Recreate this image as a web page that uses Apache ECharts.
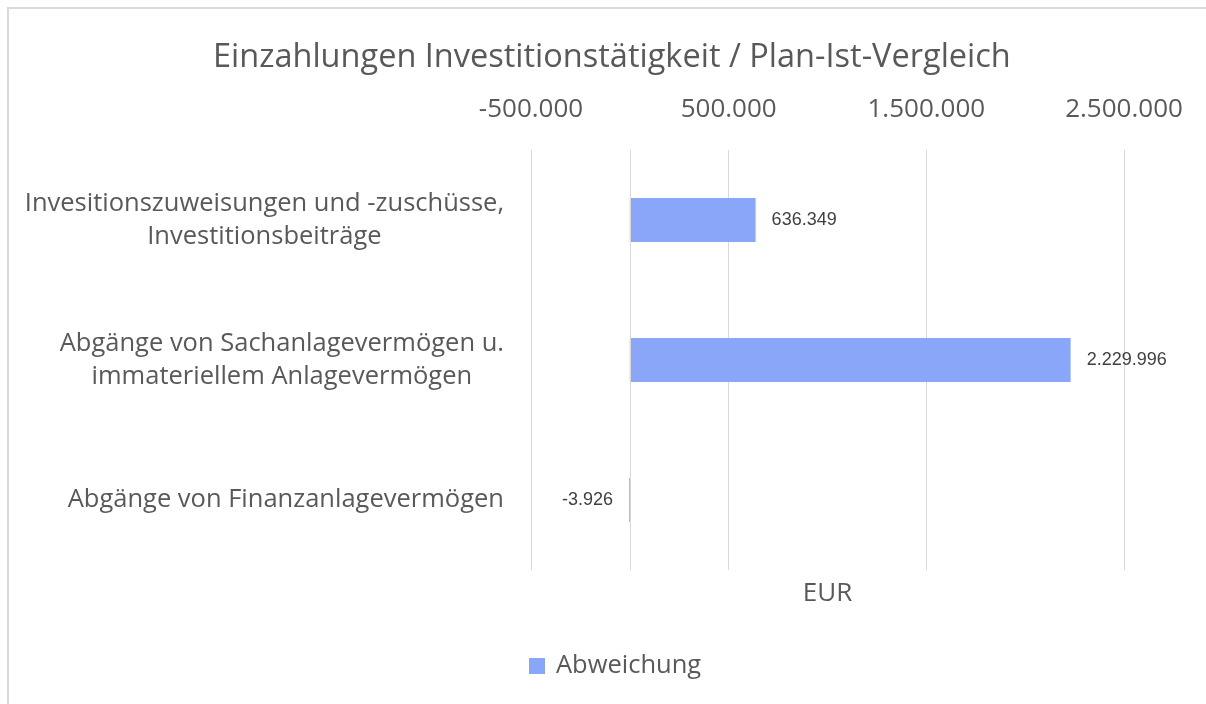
<!DOCTYPE html>
<html>
<head>
<meta charset="utf-8">
<script src="https://cdn.jsdelivr.net/npm/echarts@6/dist/echarts.min.js"></script>
<style>
  html, body { margin: 0; padding: 0; background: #fff; overflow: hidden; }
  #wrap { position: relative; width: 1206px; height: 704px; overflow: hidden; }
  #frame { position: absolute; left: 7px; top: 7px; width: 1300px; height: 800px; border: 2px solid #d9d9d9; box-sizing: border-box; }
  #chart { position: absolute; left: 0; top: 0; width: 1206px; height: 704px; }
</style>
</head>
<body>
<div id="wrap">
  <div id="frame"></div>
  <div id="chart"></div>
</div>
<script>
// Daten
const categories = [
  'Invesitionszuweisungen und -zuschüsse,\nInvestitionsbeiträge',
  'Abgänge von Sachanlagevermögen u.\nimmateriellem Anlagevermögen',
  'Abgänge von Finanzanlagevermögen'
]
const abweichung = [636349, 2229996, -3926]
const axisMin = -500000
const axisMax = 2500000
const axisStep = 1000000

const font = '"Open Sans", "Noto Sans", sans-serif'
const grey = '#595959'

// deutsche Tausenderpunkte
function fmt (v) {
  const s = Math.abs(Math.round(v)).toString().replace(/\B(?=(\d{3})+(?!\d))/g, '.')
  return (v < 0 ? '-' : '') + s
}

const chart = echarts.init(document.getElementById('chart'))
chart.setOption({
  animation: false,
  title: {
    text: 'Einzahlungen Investitionstätigkeit / Plan-Ist-Vergleich',
    left: 208,
    top: 36,
    textStyle: { fontFamily: font, fontSize: 32.5, fontWeight: 'normal', color: grey }
  },
  legend: {
    bottom: 20,
    left: 524,
    icon: 'rect',
    itemWidth: 16,
    itemHeight: 16,
    itemGap: 6,
    textStyle: { fontFamily: font, fontSize: 25.5, color: grey, padding: [0, 0, 0, 6] },
    data: ['Abweichung']
  },
  grid: {
    left: 531,
    right: 82,
    top: 150,
    bottom: 134
  },
  xAxis: [
    {
      type: 'value',
      position: 'top',
      min: axisMin,
      max: axisMax,
      interval: axisStep,
      axisLine: { show: false },
      axisTick: { show: false },
      axisLabel: {
        margin: 27,
        fontFamily: font,
        fontSize: 26,
        color: grey,
        formatter: fmt
      },
      splitLine: { lineStyle: { color: '#d9d9d9', width: 1 } }
    },
    {
      type: 'value',
      position: 'bottom',
      min: axisMin,
      max: axisMax,
      interval: axisStep,
      name: 'EUR',
      nameLocation: 'middle',
      nameGap: 11,
      nameTextStyle: { fontFamily: font, fontSize: 26, color: grey, verticalAlign: 'top' },
      axisLine: { show: false },
      axisTick: { show: false },
      axisLabel: { show: false },
      splitLine: { show: false }
    }
  ],
  yAxis: {
    type: 'category',
    inverse: true,
    data: categories,
    axisLine: { show: false },
    axisTick: { show: false },
    axisLabel: {
      margin: 27,
      formatter: v => v.split('\n').map(l => '{c|' + l + '}').join('\n'),
      rich: {
        c: { align: 'center', fontFamily: font, fontSize: 25.5, color: grey, lineHeight: 33 }
      }
    }
  },
  series: [
    {
      name: 'Abweichung',
      type: 'bar',
      barWidth: 44,
      itemStyle: { color: '#8aa6f9' },
      data: abweichung.map(v => ({
        value: v,
        label: { position: v < 0 ? 'left' : 'right' }
      })),
      label: {
        show: true,
        distance: 16,
        fontFamily: '"Liberation Sans", Arial, sans-serif',
        fontSize: 18,
        color: '#404040',
        formatter: p => fmt(p.value)
      },
      markLine: {
        silent: true,
        symbol: 'none',
        label: { show: false },
        lineStyle: { color: '#d9d9d9', type: 'solid', width: 1 },
        data: [{ xAxis: 0 }]
      }
    }
  ]
})
</script>
</body>
</html>
